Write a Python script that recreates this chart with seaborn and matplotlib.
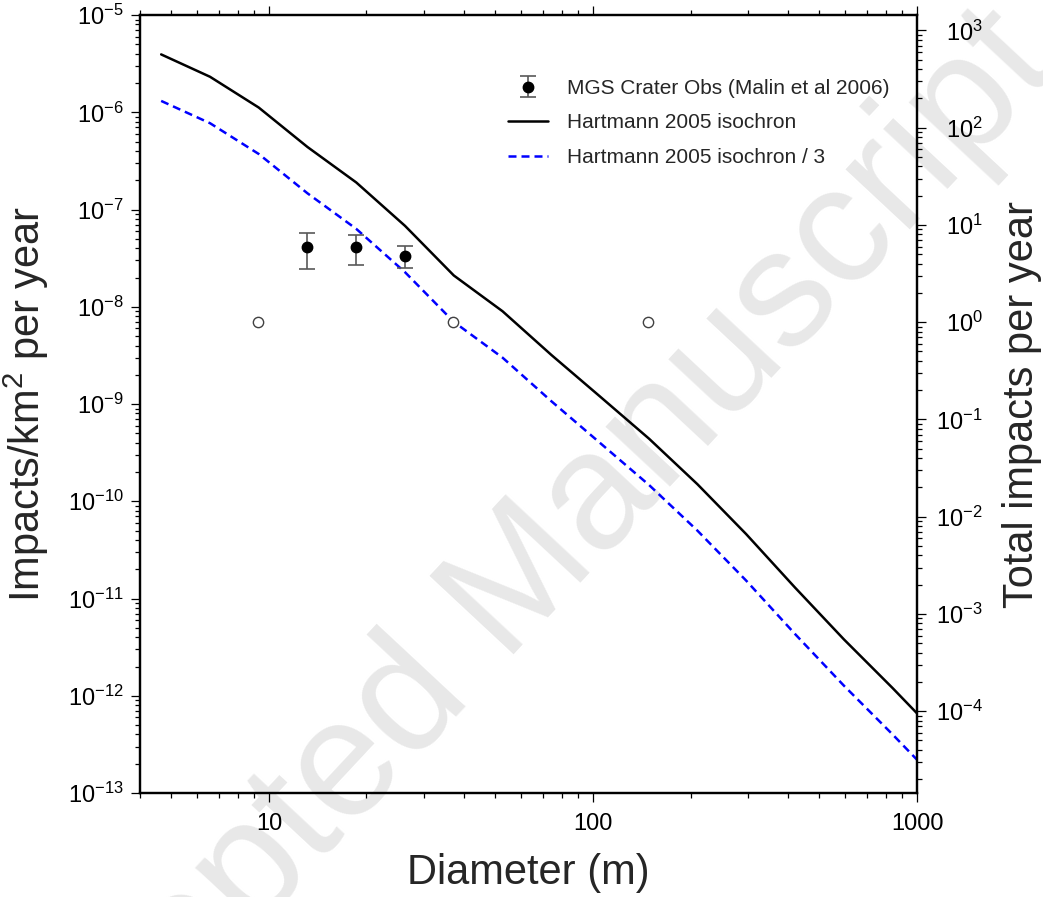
import matplotlib
matplotlib.use("Agg")
import matplotlib.pyplot as plt
from matplotlib.ticker import FuncFormatter, NullFormatter
import seaborn as sns

# =========================
# DATA
# =========================

# Hartmann 2005 isochron, impacts per km^2 per year vs crater diameter (m)
diameter_m = [4.65, 6.58, 9.3, 13.15, 18.6, 26.3, 37.2, 52.6, 74.4, 105, 149,
              210, 297, 420, 595, 841, 1000]
hartmann_rate = [3.94e-6, 2.32e-6, 1.12e-6, 4.4e-7, 1.9e-7, 6.8e-8, 2.1e-8, 9.0e-9,
                 3.2e-9, 1.2e-9, 4.4e-10, 1.5e-10, 4.6e-11, 1.3e-11, 3.8e-12,
                 1.2e-12, 6.6e-13]
hartmann_rate_div3 = [1.31e-6, 7.73e-7, 3.73e-7, 1.47e-7, 6.33e-8, 2.27e-8, 7.0e-9,
                      3.0e-9, 1.07e-9, 4.0e-10, 1.47e-10, 5.0e-11, 1.53e-11,
                      4.33e-12, 1.27e-12, 4.0e-13, 2.2e-13]

# MGS crater observations (Malin et al 2006)
malin_diam = [13.1, 18.6, 26.3]
malin_rate = [4.1e-8, 4.1e-8, 3.35e-8]
malin_low = [2.45e-8, 2.7e-8, 2.5e-8]
malin_high = [5.75e-8, 5.5e-8, 4.2e-8]

# open circles at one impact per year over the whole planet
circle_diam = [9.25, 37.0, 148.0]
circle_rate = [6.94e-9, 6.94e-9, 6.94e-9]

MARS_AREA_KM2 = 1.44e8

# =========================
# STYLE
# =========================
sns.set_style("ticks")
plt.rcParams['font.family'] = ['Liberation Sans', 'DejaVu Sans']
plt.rcParams['mathtext.fontset'] = 'custom'
plt.rcParams['mathtext.rm'] = 'Liberation Sans'
plt.rcParams['mathtext.it'] = 'Liberation Sans:italic'
plt.rcParams['mathtext.bf'] = 'Liberation Sans:bold'
plt.rcParams['axes.unicode_minus'] = False

fig = plt.figure(figsize=(10.43, 8.97), dpi=100)
ax = fig.add_axes([0.1342, 0.1159, 0.7450, 0.8673])
ax.set_facecolor('none')

# watermark
fig.text(0.478, 0.322, "Accepted Manuscript", rotation=47, fontsize=120,
         color='#e8e8e8', ha='center', va='center', rotation_mode='anchor',
         zorder=-1)

ax.set_xscale('log')
ax.set_yscale('log')

# =========================
# PLOT
# =========================
sns.lineplot(x=diameter_m, y=hartmann_rate, ax=ax, color='black', linewidth=1.8)
black_line = ax.lines[-1]
sns.lineplot(x=diameter_m, y=hartmann_rate_div3, ax=ax, color='blue', linewidth=1.8,
             linestyle=(0, (3.2, 2.0)))
blue_line = ax.lines[-1]

yerr = [[r - lo for r, lo in zip(malin_rate, malin_low)],
        [hi - r for r, hi in zip(malin_rate, malin_high)]]
err = ax.errorbar(malin_diam, malin_rate, yerr=yerr, fmt='o', color='black',
                  ms=7.5, ecolor='0.35', elinewidth=1.2, capsize=6, capthick=1.2,
                  zorder=4)

sns.scatterplot(x=circle_diam, y=circle_rate, ax=ax, marker='o', s=55,
                facecolor='white', edgecolor='0.25', linewidth=1.0, zorder=5)

ax.set_xlim(4, 1000)
ax.set_ylim(1e-13, 1e-5)
ax.set_yticks([10.0 ** e for e in range(-13, -4)])
ax.xaxis.set_major_formatter(FuncFormatter(lambda v, p: f"{v:g}"))
ax.xaxis.set_minor_formatter(NullFormatter())
ax.yaxis.set_minor_formatter(NullFormatter())

ax.tick_params(which='both', direction='out', top=True, right=False, width=0.9,
               colors='black')
ax.tick_params(which='major', length=6.5, labelsize=17)
ax.tick_params(axis='y', which='major', pad=5)
ax.tick_params(axis='x', which='major', pad=8)
ax.tick_params(which='minor', length=3.5)

ax.set_xlabel("Diameter (m)", fontsize=30, labelpad=13)
ax.set_ylabel("Impacts/km$^2$ per year", fontsize=30, labelpad=12)

# right axis: total impacts on the planet per year
ax2 = ax.twinx()
ax2.set_yscale('log')
ax2.set_ylim(1e-13 * MARS_AREA_KM2, 1e-5 * MARS_AREA_KM2)
ax2.set_yticks([10.0 ** e for e in range(-4, 4)])
ax2.yaxis.set_minor_formatter(NullFormatter())
ax2.tick_params(which='both', direction='out', width=0.9, colors='black')
ax2.tick_params(which='major', length=6.5, labelsize=17, pad=41)
ax2.tick_params(which='minor', length=3.5)
for lbl in ax2.get_yticklabels():
    lbl.set_ha('right')
ax2.set_ylabel("Total impacts per year", fontsize=30, labelpad=14)

for a in (ax, ax2):
    for s in a.spines.values():
        s.set_linewidth(1.6)
        s.set_color('black')

# legend
ax.legend([err, black_line, blue_line],
          ["MGS Crater Obs (Malin et al 2006)", "Hartmann 2005 isochron",
           "Hartmann 2005 isochron / 3"],
          loc='upper left', bbox_to_anchor=(0.4736, 0.918), frameon=False,
          fontsize=15, handlelength=1.9, handletextpad=0.95, labelspacing=0.75,
          borderaxespad=0, borderpad=0, numpoints=1)

fig.savefig("out.png", dpi=100)
